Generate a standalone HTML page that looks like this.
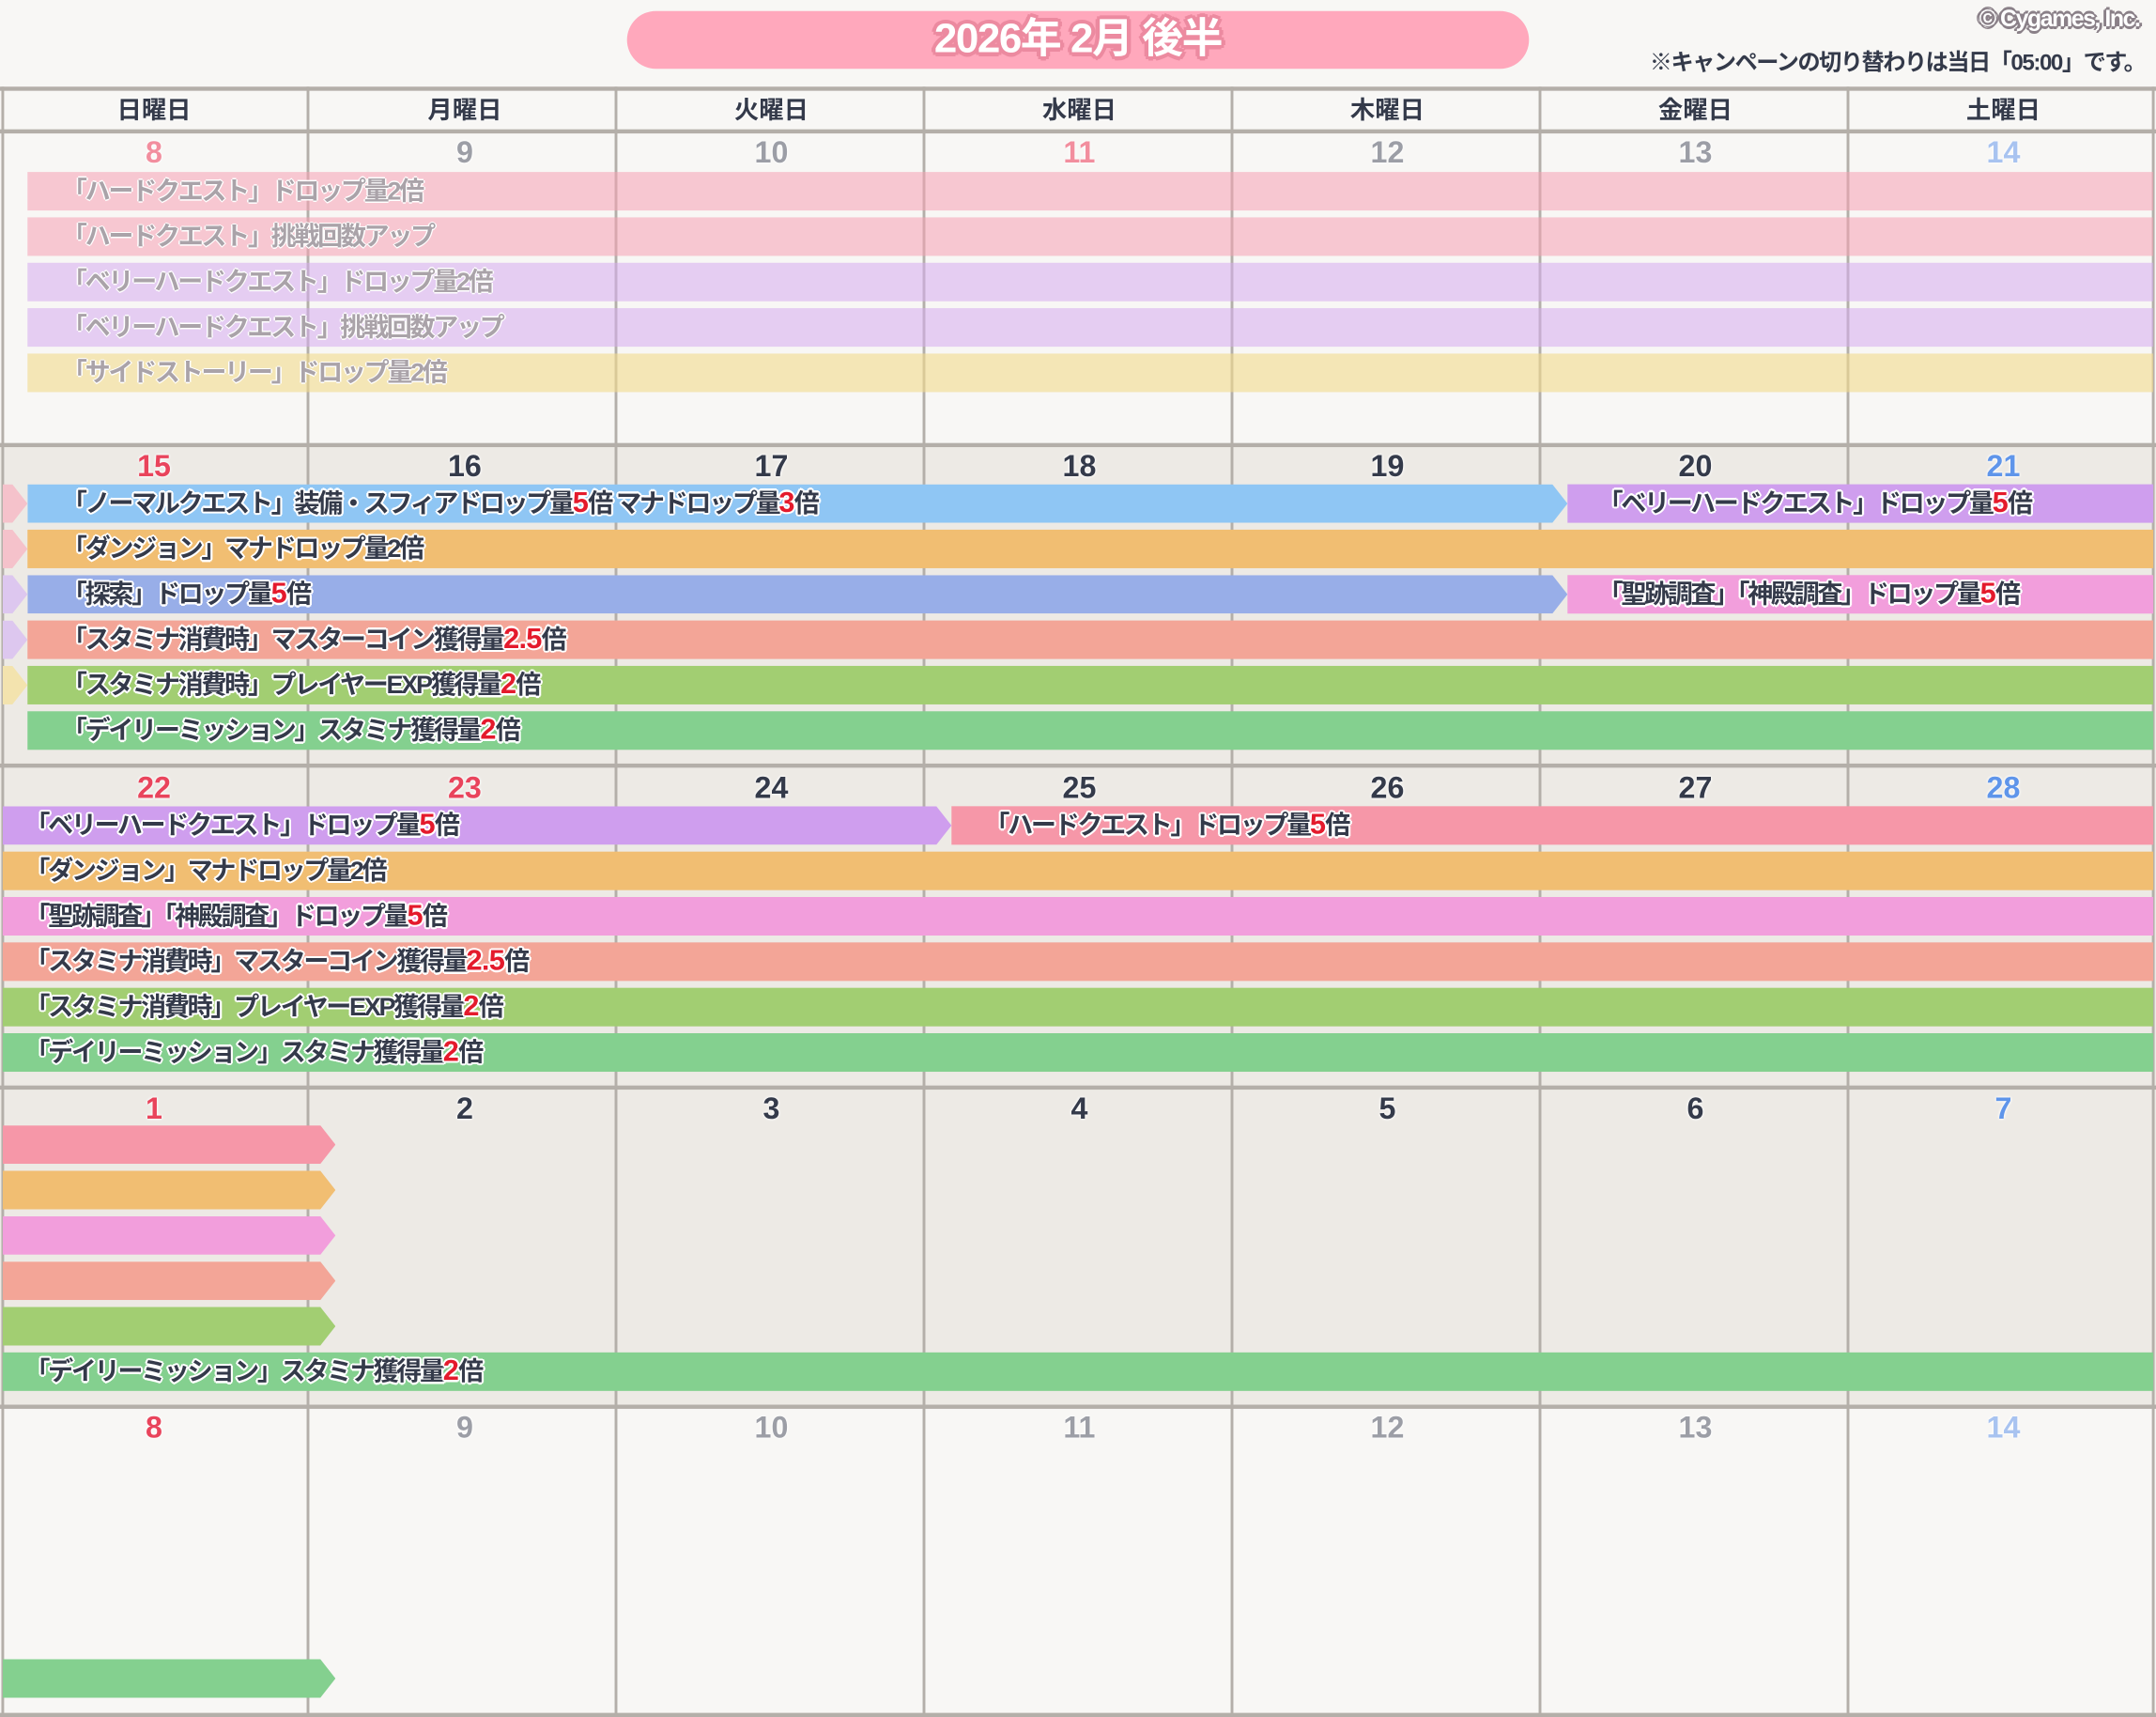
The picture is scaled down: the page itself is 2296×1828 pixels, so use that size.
<!DOCTYPE html>
<html><head><meta charset="utf-8">
<style>
html,body{margin:0;padding:0;background:#f8f7f5;}
body{width:2296px;height:1828px;overflow:hidden;position:relative;}
#s{position:absolute;left:0;top:0;width:1568px;height:1248px;transform:scale(1.46429,1.46474);transform-origin:0 0;font-family:"Liberation Sans","Noto Sans CJK JP",sans-serif;font-weight:bold;}
.a{position:absolute;}
.vl{position:absolute;width:2px;background:#b4afa9;}
.hl{position:absolute;height:3px;left:0;width:1568px;background:#b4afa9;}
.d{position:absolute;width:224px;text-align:center;font-size:22px;line-height:24px;font-family:"Liberation Sans",sans-serif;font-weight:bold;text-shadow:0 0 2px #fff,0 0 2px #fff;}
.b{position:absolute;height:28px;line-height:28px;font-size:18.5px;letter-spacing:-1.6px;color:#343a4a;white-space:nowrap;box-sizing:border-box;
text-shadow:-1.5px 0 #fff,1.5px 0 #fff,0 -1.5px #fff,0 1.5px #fff,-1px -1px #fff,1px 1px #fff,-1px 1px #fff,1px -1px #fff;}
.r{color:#e41a2c;font-size:21px;letter-spacing:-0.5px;}
.f{color:#aaa3a9;text-shadow:-1px 0 #fff,1px 0 #fff,0 -1px #fff,0 1px #fff;}
.pt{clip-path:polygon(0 0,calc(100% - 11px) 0,100% 50%,calc(100% - 11px) 100%,0 100%);}
.wd{color:#343a4a}.su{color:#e9445c}.sa{color:#5f95ea}.fg{color:#9c9ea6}.fs{color:#f28e9e}.fb{color:#a8c3f0}
</style></head><body><div id="s">
<div class="a" style="left:456px;top:8px;width:656px;height:42px;border-radius:21px;background:#ffa8bc;"></div>
<div class="a" style="left:456px;top:8px;width:656px;height:42px;line-height:42px;text-align:center;color:#fff;font-size:30px;letter-spacing:-1px;text-shadow:-3px 0 #ec8aa0,3px 0 #ec8aa0,0 -3px #ec8aa0,0 3px #ec8aa0,-2px -2px #ec8aa0,2px 2px #ec8aa0,-2px 2px #ec8aa0,2px -2px #ec8aa0;">2026年 2月 後半</div>
<div class="a" style="right:12px;top:4px;font-size:17px;color:#fff;letter-spacing:-1px;text-shadow:-2px 0 #8a8088,2px 0 #8a8088,0 -2px #8a8088,0 2px #8a8088,-1px -1px #8a8088,1px 1px #8a8088;">© Cygames, Inc.</div>
<div class="a" style="right:8px;top:32px;font-size:16.5px;color:#343a4a;letter-spacing:-1px;">※キャンペーンの切り替わりは当日「05:00」です。</div>
<div class="a" style="left:0;top:64px;width:1568px;height:259px;background:#f8f7f5"></div>
<div class="a" style="left:0;top:323px;width:1568px;height:699px;background:#edeae5"></div>
<div class="a" style="left:0;top:1022px;width:1568px;height:226px;background:#f8f7f5"></div>
<div class="d wd" style="left:0;top:68px;font-size:18px;font-family:'Liberation Sans','Noto Sans CJK JP',sans-serif;">日曜日</div>
<div class="d wd" style="left:226px;top:68px;font-size:18px;font-family:'Liberation Sans','Noto Sans CJK JP',sans-serif;">月曜日</div>
<div class="d wd" style="left:449px;top:68px;font-size:18px;font-family:'Liberation Sans','Noto Sans CJK JP',sans-serif;">火曜日</div>
<div class="d wd" style="left:673px;top:68px;font-size:18px;font-family:'Liberation Sans','Noto Sans CJK JP',sans-serif;">水曜日</div>
<div class="d wd" style="left:897px;top:68px;font-size:18px;font-family:'Liberation Sans','Noto Sans CJK JP',sans-serif;">木曜日</div>
<div class="d wd" style="left:1121px;top:68px;font-size:18px;font-family:'Liberation Sans','Noto Sans CJK JP',sans-serif;">金曜日</div>
<div class="d wd" style="left:1345px;top:68px;font-size:18px;font-family:'Liberation Sans','Noto Sans CJK JP',sans-serif;">土曜日</div>
<div class="hl" style="top:63px"></div><div class="hl" style="top:94px"></div>
<div class="hl" style="top:322px"></div><div class="hl" style="top:555px"></div>
<div class="hl" style="top:789px"></div><div class="hl" style="top:1021px"></div>
<div class="hl" style="top:1245px"></div>
<div class="vl" style="left:1px;top:63px;height:1185px"></div>
<div class="vl" style="left:223px;top:63px;height:1185px"></div>
<div class="vl" style="left:447px;top:63px;height:1185px"></div>
<div class="vl" style="left:671px;top:63px;height:1185px"></div>
<div class="vl" style="left:895px;top:63px;height:1185px"></div>
<div class="vl" style="left:1119px;top:63px;height:1185px"></div>
<div class="vl" style="left:1343px;top:63px;height:1185px"></div>
<div class="vl" style="left:1565px;top:63px;height:1185px"></div>
<div class="d fs" style="left:0;top:99px">8</div><div class="d fg" style="left:226px;top:99px">9</div><div class="d fg" style="left:449px;top:99px">10</div><div class="d fs" style="left:673px;top:99px">11</div><div class="d fg" style="left:897px;top:99px">12</div><div class="d fg" style="left:1121px;top:99px">13</div><div class="d fb" style="left:1345px;top:99px">14</div>
<div class="d su" style="left:0;top:327px">15</div><div class="d wd" style="left:226px;top:327px">16</div><div class="d wd" style="left:449px;top:327px">17</div><div class="d wd" style="left:673px;top:327px">18</div><div class="d wd" style="left:897px;top:327px">19</div><div class="d wd" style="left:1121px;top:327px">20</div><div class="d sa" style="left:1345px;top:327px">21</div>
<div class="d su" style="left:0;top:561px">22</div><div class="d su" style="left:226px;top:561px">23</div><div class="d wd" style="left:449px;top:561px">24</div><div class="d wd" style="left:673px;top:561px">25</div><div class="d wd" style="left:897px;top:561px">26</div><div class="d wd" style="left:1121px;top:561px">27</div><div class="d sa" style="left:1345px;top:561px">28</div>
<div class="d su" style="left:0;top:794px">1</div><div class="d wd" style="left:226px;top:794px">2</div><div class="d wd" style="left:449px;top:794px">3</div><div class="d wd" style="left:673px;top:794px">4</div><div class="d wd" style="left:897px;top:794px">5</div><div class="d wd" style="left:1121px;top:794px">6</div><div class="d sa" style="left:1345px;top:794px">7</div>
<div class="d su" style="left:0;top:1026px">8</div><div class="d fg" style="left:226px;top:1026px">9</div><div class="d fg" style="left:449px;top:1026px">10</div><div class="d fg" style="left:673px;top:1026px">11</div><div class="d fg" style="left:897px;top:1026px">12</div><div class="d fg" style="left:1121px;top:1026px">13</div><div class="d fb" style="left:1345px;top:1026px">14</div>
<div class="b f" style="left:20px;top:125px;width:1546px;background:rgba(246,160,178,0.55);padding-left:25px">「ハードクエスト」ドロップ量2倍</div>
<div class="b f" style="left:20px;top:158px;width:1546px;background:rgba(246,160,178,0.55);padding-left:25px">「ハードクエスト」挑戦回数アップ</div>
<div class="b f" style="left:20px;top:191px;width:1546px;background:rgba(214,172,238,0.55);padding-left:25px">「ベリーハードクエスト」ドロップ量2倍</div>
<div class="b f" style="left:20px;top:224px;width:1546px;background:rgba(214,172,238,0.55);padding-left:25px">「ベリーハードクエスト」挑戦回数アップ</div>
<div class="b f" style="left:20px;top:257px;width:1546px;background:rgba(242,219,140,0.6);padding-left:25px">「サイドストーリー」ドロップ量2倍</div>
<div class="b pt" style="left:2px;top:352px;width:18px;background:#f5c2cb"></div>
<div class="b pt" style="left:2px;top:385px;width:18px;background:#f5c2cb"></div>
<div class="b pt" style="left:2px;top:418px;width:18px;background:#ddc7ef"></div>
<div class="b pt" style="left:2px;top:451px;width:18px;background:#ddc7ef"></div>
<div class="b pt" style="left:2px;top:484px;width:18px;background:#f3e3ae"></div>
<div class="b pt" style="left:20px;top:352px;width:1120px;background:#8fc6f4;padding-left:25px">「ノーマルクエスト」装備・スフィアドロップ量<span class="r">5</span>倍 マナドロップ量<span class="r">3</span>倍</div>
<div class="b" style="left:1140px;top:352px;width:426px;background:#cf9eee;padding-left:22px">「ベリーハードクエスト」ドロップ量<span class="r">5</span>倍</div>
<div class="b" style="left:20px;top:385px;width:1546px;background:#f1be72;padding-left:25px">「ダンジョン」マナドロップ量2倍</div>
<div class="b pt" style="left:20px;top:418px;width:1120px;background:#98aee8;padding-left:25px">「探索」ドロップ量<span class="r">5</span>倍</div>
<div class="b" style="left:1140px;top:418px;width:426px;background:#f29edc;padding-left:22px">「聖跡調査」「神殿調査」ドロップ量<span class="r">5</span>倍</div>
<div class="b" style="left:20px;top:451px;width:1546px;background:#f3a597;padding-left:25px">「スタミナ消費時」マスターコイン獲得量<span class="r">2.5</span>倍</div>
<div class="b" style="left:20px;top:484px;width:1546px;background:#a2ce72;padding-left:25px">「スタミナ消費時」プレイヤーEXP獲得量<span class="r">2</span>倍</div>
<div class="b" style="left:20px;top:517px;width:1546px;background:#84d08f;padding-left:25px">「デイリーミッション」スタミナ獲得量<span class="r">2</span>倍</div>
<div class="b pt" style="left:2px;top:586px;width:690px;background:#cf9eee;padding-left:16px">「ベリーハードクエスト」ドロップ量<span class="r">5</span>倍</div>
<div class="b" style="left:692px;top:586px;width:874px;background:#f697a8;padding-left:24px">「ハードクエスト」ドロップ量<span class="r">5</span>倍</div>
<div class="b" style="left:2px;top:619px;width:1564px;background:#f1be72;padding-left:16px">「ダンジョン」マナドロップ量2倍</div>
<div class="b" style="left:2px;top:652px;width:1564px;background:#f29edc;padding-left:16px">「聖跡調査」「神殿調査」ドロップ量<span class="r">5</span>倍</div>
<div class="b" style="left:2px;top:685px;width:1564px;background:#f3a597;padding-left:16px">「スタミナ消費時」マスターコイン獲得量<span class="r">2.5</span>倍</div>
<div class="b" style="left:2px;top:718px;width:1564px;background:#a2ce72;padding-left:16px">「スタミナ消費時」プレイヤーEXP獲得量<span class="r">2</span>倍</div>
<div class="b" style="left:2px;top:751px;width:1564px;background:#84d08f;padding-left:16px">「デイリーミッション」スタミナ獲得量<span class="r">2</span>倍</div>
<div class="b pt" style="left:2px;top:818px;width:242px;background:#f697a8"></div>
<div class="b pt" style="left:2px;top:851px;width:242px;background:#f1be72"></div>
<div class="b pt" style="left:2px;top:884px;width:242px;background:#f29edc"></div>
<div class="b pt" style="left:2px;top:917px;width:242px;background:#f3a597"></div>
<div class="b pt" style="left:2px;top:950px;width:242px;background:#a2ce72"></div>
<div class="b" style="left:2px;top:983px;width:1564px;background:#84d08f;padding-left:16px">「デイリーミッション」スタミナ獲得量<span class="r">2</span>倍</div>
<div class="b pt" style="left:2px;top:1206px;width:242px;background:#84d08f"></div>
</div></body></html>
